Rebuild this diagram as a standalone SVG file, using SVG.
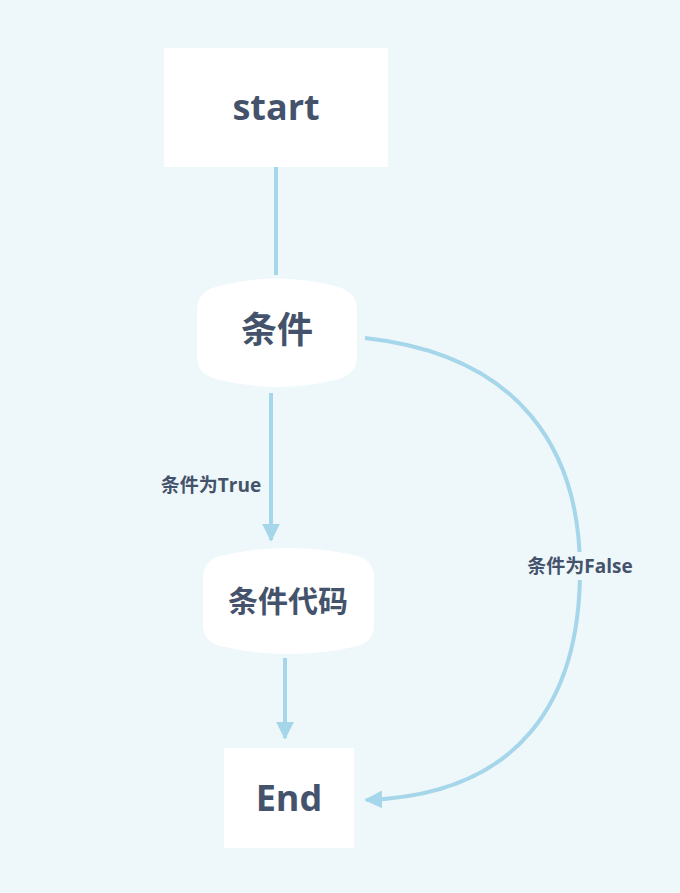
<svg xmlns="http://www.w3.org/2000/svg" width="680" height="893" viewBox="0 0 680 893">
<style>
.n{fill:#fff}
.t{font-family:"Open Sans","Noto Sans CJK SC",sans-serif;font-weight:bold;fill:#44536b;text-anchor:middle}
.c{stroke:#a6d6ea;stroke-width:4;fill:none}
.l{font-family:"Open Sans","Noto Sans CJK SC",sans-serif;font-weight:bold;fill:#44536b;font-size:19px;text-anchor:middle}
</style>
<defs><marker id="a" viewBox="0 0 10 10" refX="9" refY="5" markerWidth="4.5" markerHeight="4.5" orient="auto" markerUnits="strokeWidth"><path d="M0,0L10,5L0,10z" fill="#a6d6ea"/></marker></defs>
<rect width="680" height="893" fill="#eef7fa"/>
<g id="connectors">
<path class="c" d="M276,167V275"/>
<path class="c" d="M271,393V540" marker-end="url(#a)"/>
<path class="c" d="M285,658V738" marker-end="url(#a)"/>
<path class="c" d="M365,338C520,355 580,450 580,570C580,700 520,795 366,800" marker-end="url(#a)"/>
</g>
<g id="start"><rect class="n" x="164" y="48" width="224" height="119"/><text class="t" x="276" y="120" font-size="36">start</text></g>
<g id="cond"><path class="n" d="M215,287Q277,270 339,287Q357,293 357,310V357Q357,373 339,379Q277,395 215,379Q197,373 197,357V310Q197,293 215,287Z"/><text class="t" x="277" y="343" font-size="36">条件</text></g>
<g id="code"><path class="n" d="M220,556Q289,540 358,556Q374,561 374,578V625Q374,641 358,646Q289,662 220,646Q203,641 203,625V578Q203,561 220,556Z"/><text class="t" x="288" y="612" font-size="30">条件代码</text></g>
<g id="end"><rect class="n" x="224" y="748" width="130" height="100"/><text class="t" x="289" y="811" font-size="36">End</text></g>
<g id="labels">
<text class="l" x="211" y="492">条件为True</text>
<rect x="516" y="552" width="128" height="28" fill="#eef7fa"/>
<text class="l" x="580" y="573">条件为False</text>
</g>
</svg>
